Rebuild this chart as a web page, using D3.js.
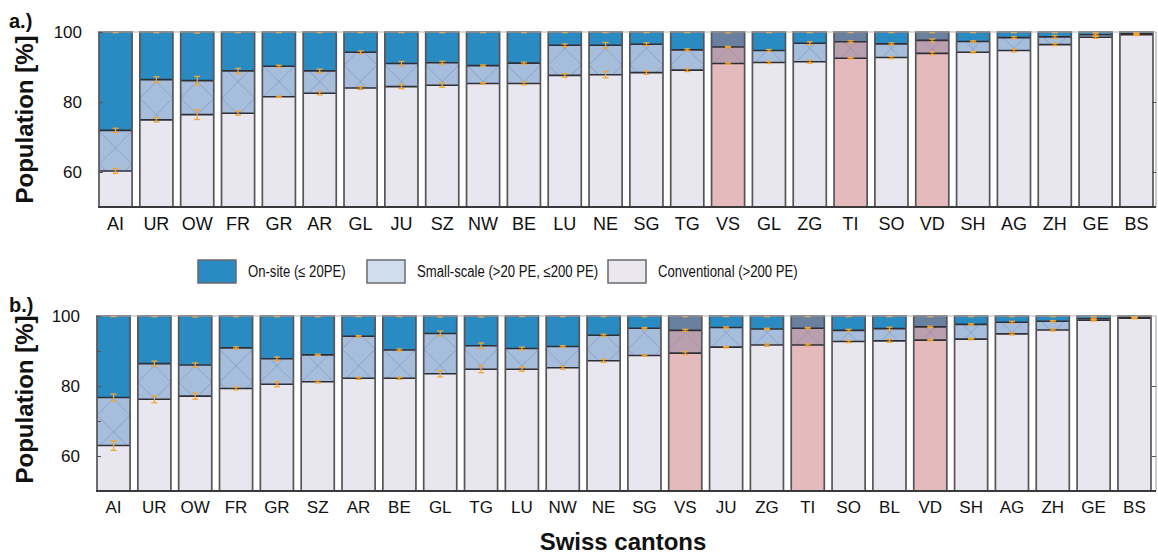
<!DOCTYPE html>
<html>
<head>
<meta charset="utf-8">
<script src="https://cdn.jsdelivr.net/npm/d3@7"></script>
<style>
  body { margin: 0; background: #fff; }
  svg { display: block; font-family: "Liberation Sans", Arial, sans-serif; }
  .axis .domain { display: none; }
  .axis text { font-family: "Liberation Sans", Arial, sans-serif; font-size: 17px; fill: #111; }
  .axis line { stroke: #555; }
</style>
</head>
<body>
<div id="chart"></div>
<script>
// ---- data ----
var keys = ["conventional", "smallScale", "onSite"];
var highlighted = ["VS", "TI", "VD"];

// panel a
var cantonsA = ["AI","UR","OW","FR","GR","AR","GL","JU","SZ","NW","BE","LU","NE","SG","TG","VS","GL","ZG","TI","SO","VD","SH","AG","ZH","GE","BS"];
var conventionalA = [60.3,74.9,76.4,76.8,81.5,82.5,84.0,84.4,84.8,85.3,85.3,87.6,87.8,88.4,89.1,91.0,91.3,91.5,92.5,92.7,93.9,94.2,94.7,96.4,98.5,99.2];
var smallScaleA   = [11.6,11.5,9.7,12.1,8.7,6.4,10.2,6.6,6.4,5.1,5.8,8.6,8.4,8.1,5.8,4.7,3.4,5.3,4.7,3.9,3.7,3.1,3.7,2.2,0.7,0.3];
var onSiteA       = [28.1,13.6,13.9,11.1,9.8,11.1,5.8,9.0,8.8,9.6,8.9,3.8,3.8,3.5,5.1,4.3,5.3,3.2,2.8,3.4,2.4,2.7,1.6,1.4,0.8,0.5];
// error half-widths: at 100, at on-site/small boundary, at small/conventional boundary
var errTopA   = [0.2,0.2,0.3,0.2,0.2,0.2,0.2,0.2,0.2,0.2,0.2,0.2,0.2,0.2,0.2,0.3,0.2,0.2,0.2,0.2,0.2,0.2,0.2,0.2,0.2,0.2];
var errUpperA = [0.6,0.8,1.2,0.7,0.3,0.5,0.4,0.6,0.4,0.2,0.3,0.4,0.8,0.4,0.3,0.2,0.3,0.4,0.3,0.3,0.4,0.2,0.3,0.4,0.3,0.2];
var errLowerA = [0.7,0.6,1.4,0.6,0.2,0.5,0.4,0.6,0.6,0.2,0.4,0.5,0.9,0.5,0.4,0.2,0.3,0.4,0.2,0.3,0.4,0.2,0.4,0.3,0.3,0.2];

// panel b
var cantonsB = ["AI","UR","OW","FR","GR","SZ","AR","BE","GL","TG","LU","NW","NE","SG","VS","JU","ZG","TI","SO","BL","VD","SH","AG","ZH","GE","BS"];
var conventionalB = [63.0,76.2,77.1,79.3,80.5,81.2,82.2,82.2,83.5,84.8,84.8,85.2,87.2,88.7,89.4,91.1,91.7,91.7,92.7,92.9,93.1,93.4,94.9,96.0,98.8,99.4];
var smallScaleB   = [13.7,10.2,8.9,11.6,7.3,7.7,12.0,8.1,11.5,6.7,5.9,6.1,7.3,7.8,6.5,5.6,4.6,4.8,3.2,3.5,3.8,4.2,3.3,2.5,0.4,0.2];
var onSiteB       = [23.3,13.6,14.0,9.1,12.2,11.1,5.8,9.7,5.0,8.5,9.3,8.7,5.5,3.5,4.1,3.3,3.7,3.5,4.1,3.6,3.1,2.4,1.8,1.5,0.8,0.4];
var errTopB   = [0.2,0.2,0.3,0.2,0.2,0.2,0.2,0.2,0.3,0.3,0.2,0.2,0.2,0.2,0.2,0.2,0.2,0.2,0.2,0.2,0.2,0.2,0.2,0.2,0.2,0.2];
var errUpperB = [1.0,0.7,0.6,0.3,0.5,0.2,0.2,0.3,0.7,0.8,0.4,0.2,0.3,0.2,0.3,0.2,0.2,0.2,0.3,0.4,0.2,0.2,0.3,0.2,0.2,0.2];
var errLowerB = [1.4,1.0,0.9,0.4,0.7,0.3,0.3,0.3,0.9,1.0,0.6,0.4,0.4,0.2,0.4,0.2,0.3,0.3,0.3,0.4,0.2,0.2,0.3,0.3,0.2,0.2];

var yTicks = [60, 80, 100];
var legendLabels = ["On-site (\u2264 20PE)", "Small-scale (>20 PE, \u2264200 PE)", "Conventional (>200 PE)"];

// ---- colours ----
var colors = { onSite: "#2a8bc2", smallScale: "#a6bddc", conventional: "#e8e6ef" };
var legendColors = ["#2a8bc2", "#d0dded", "#ebe7f1"];

var svg = d3.select("#chart").append("svg")
    .attr("width", 1158)
    .attr("height", 556);

var defs = svg.append("defs");

StackPanel = function(_opts) {
    this.opts = _opts;
    this.initVis();
};

StackPanel.prototype.initVis = function() {
    var vis = this;
    var o = vis.opts;

    // build rows
    vis.data = o.cantons.map(function(c, i) {
        return {
            i: i, canton: c,
            conventional: o.conventional[i],
            smallScale: o.smallScale[i],
            onSite: o.onSite[i],
            errTop: o.errTop[i], errUpper: o.errUpper[i], errLower: o.errLower[i]
        };
    });

    vis.x = d3.scaleBand()
        .domain(d3.range(o.cantons.length))
        .range([o.left, o.barsRight])
        .paddingInner(0.19)
        .paddingOuter(0);

    vis.y = d3.scaleLinear()
        .domain([50, 100])
        .range([o.bottom, o.top]);

    vis.g = svg.append("g");

    var series = d3.stack().keys(keys)(vis.data);

    // hatch pattern per bar, anchored at the bar's left edge
    vis.data.forEach(function(d) {
        var w = vis.x.bandwidth();
        var p = defs.append("pattern")
            .attr("id", o.id + "-hatch-" + d.i)
            .attr("patternUnits", "userSpaceOnUse")
            .attr("x", vis.x(d.i))
            .attr("y", o.top)
            .attr("width", w)
            .attr("height", w);
        p.append("rect").attr("width", w).attr("height", w).attr("fill", colors.smallScale);
        p.append("path")
            .attr("d", "M0,0L" + w + "," + w + "M" + w + ",0L0," + w)
            .attr("stroke", "#8197ba")
            .attr("stroke-width", 0.7)
            .attr("fill", "none");
    });

    // stacked segments
    vis.g.selectAll(".layer")
        .data(series)
        .enter().append("g")
        .attr("class", "layer")
        .selectAll("rect")
        .data(function(s) { return s.map(function(v) { v.key = s.key; return v; }); })
        .enter().append("rect")
        .attr("x", function(v) { return vis.x(v.data.i); })
        .attr("width", vis.x.bandwidth())
        .attr("y", function(v) { return vis.y(Math.max(v[1], 50)); })
        .attr("height", function(v) { return Math.max(0, vis.y(Math.max(v[0], 50)) - vis.y(Math.max(v[1], 50))); })
        .attr("fill", function(v) {
            return v.key === "smallScale" ? "url(#" + o.id + "-hatch-" + v.data.i + ")" : colors[v.key];
        });

    // red overlay on highlighted cantons
    vis.g.selectAll(".hl")
        .data(vis.data.filter(function(d) { return highlighted.indexOf(d.canton) >= 0; }))
        .enter().append("rect")
        .attr("class", "hl")
        .attr("x", function(d) { return vis.x(d.i); })
        .attr("width", vis.x.bandwidth())
        .attr("y", vis.y(100))
        .attr("height", vis.y(50) - vis.y(100))
        .attr("fill", "rgb(222,108,96)")
        .attr("fill-opacity", 0.36);

    // segment boundaries
    vis.g.selectAll(".bound")
        .data(vis.data.reduce(function(acc, d) {
            acc.push({ i: d.i, v: d.conventional });
            acc.push({ i: d.i, v: d.conventional + d.smallScale });
            return acc;
        }, []))
        .enter().append("line")
        .attr("class", "bound")
        .attr("x1", function(b) { return vis.x(b.i); })
        .attr("x2", function(b) { return vis.x(b.i) + vis.x.bandwidth(); })
        .attr("y1", function(b) { return vis.y(b.v); })
        .attr("y2", function(b) { return vis.y(b.v); })
        .attr("stroke", "#2f2f35")
        .attr("stroke-width", 1.6);

    // bar outlines
    vis.g.selectAll(".outline")
        .data(vis.data)
        .enter().append("rect")
        .attr("class", "outline")
        .attr("x", function(d) { return vis.x(d.i); })
        .attr("width", vis.x.bandwidth())
        .attr("y", vis.y(100))
        .attr("height", vis.y(50) - vis.y(100))
        .attr("fill", "none")
        .attr("stroke", "#55555a")
        .attr("stroke-width", 1.7);

    // error bars
    var errs = [];
    vis.data.forEach(function(d) {
        errs.push({ i: d.i, v: 100, e: d.errTop, top: true });
        errs.push({ i: d.i, v: d.conventional + d.smallScale, e: d.errUpper });
        errs.push({ i: d.i, v: d.conventional, e: d.errLower });
    });
    var eg = vis.g.selectAll(".err")
        .data(errs)
        .enter().append("g")
        .attr("class", "err")
        .attr("transform", function(e) { return "translate(" + (vis.x(e.i) + vis.x.bandwidth() / 2) + ",0)"; });
    eg.append("line")
        .attr("y1", function(e) { return vis.y(Math.min(100, e.v + e.e)); })
        .attr("y2", function(e) { return vis.y(e.v - e.e); })
        .attr("stroke", function(e) { return e.top ? "#7a6a50" : "#f2a735"; })
        .attr("stroke-width", 1.3);
    eg.selectAll(".cap")
        .data(function(e) { return e.top ? [e.v - e.e] : [e.v + e.e, e.v - e.e]; })
        .enter().append("line")
        .attr("x1", -3).attr("x2", 3)
        .attr("y1", function(v) { return vis.y(v); })
        .attr("y2", function(v) { return vis.y(v); })
        .attr("stroke", "#f2a735")
        .attr("stroke-width", 1.3);

    // frame
    vis.g.append("line")
        .attr("x1", o.left).attr("x2", o.right)
        .attr("y1", vis.y(100)).attr("y2", vis.y(100))
        .attr("stroke", "#b5b5b8").attr("stroke-width", 1);
    vis.g.append("line")
        .attr("x1", o.right).attr("x2", o.right)
        .attr("y1", vis.y(100)).attr("y2", vis.y(50))
        .attr("stroke", "#9a9a9e").attr("stroke-width", 1);
    vis.g.append("line")
        .attr("x1", o.left - 1).attr("x2", o.right)
        .attr("y1", vis.y(50)).attr("y2", vis.y(50))
        .attr("stroke", "#3a3a3d").attr("stroke-width", 2.2);

    // y axis
    vis.g.append("g")
        .attr("class", "axis axis--y")
        .attr("transform", "translate(" + o.left + ",0)")
        .call(d3.axisLeft(vis.y)
            .tickValues(o.yTickValues)
            .tickSize(-4)
            .tickPadding(17)
            .tickFormat(function(d) { return yTicks.indexOf(d) >= 0 ? d : ""; }));

    vis.g.append("g")
        .attr("class", "axis axis--right")
        .attr("transform", "translate(" + o.right + ",0)")
        .call(d3.axisRight(vis.y)
            .tickValues([60, 80])
            .tickSize(-4)
            .tickFormat(""));

    // x axis labels
    vis.g.append("g")
        .attr("class", "axis axis--x")
        .attr("transform", "translate(0," + o.bottom + ")")
        .call(d3.axisBottom(vis.x)
            .tickSize(0)
            .tickPadding(8)
            .tickFormat(function(i) { return o.cantons[i]; }))
        .selectAll("text")
        .style("font-size", o.labelSize + "px")
        .attr("dy", "0.85em");

    // y title
    vis.g.append("text")
        .attr("transform", "translate(" + (o.titleX) + "," + ((o.top + o.bottom) / 2 + o.titleShift) + ") rotate(-90)")
        .attr("text-anchor", "middle")
        .style("font-size", "24px")
        .style("font-weight", "bold")
        .attr("fill", "#111")
        .text("Population [%]");

    // panel tag
    vis.g.append("text")
        .attr("x", 9)
        .attr("y", o.top - 4)
        .style("font-size", "20px")
        .style("font-weight", "bold")
        .attr("fill", "#111")
        .text(o.tag);
};

var panelA = new StackPanel({
    id: "a", tag: "a.)",
    cantons: cantonsA, conventional: conventionalA, smallScale: smallScaleA, onSite: onSiteA,
    errTop: errTopA, errUpper: errUpperA, errLower: errLowerA,
    left: 99, barsRight: 1153, right: 1156, top: 32, bottom: 207,
    yTickValues: [60, 80, 100], labelSize: 18, titleX: 33, titleShift: 0
});

var panelB = new StackPanel({
    id: "b", tag: "b.)",
    cantons: cantonsB, conventional: conventionalB, smallScale: smallScaleB, onSite: onSiteB,
    errTop: errTopB, errUpper: errUpperB, errLower: errLowerB,
    left: 97, barsRight: 1151, right: 1156, top: 316, bottom: 491,
    yTickValues: [60, 70, 80, 90, 100], labelSize: 17, titleX: 33, titleShift: -4
});

// legend (narrow lettering, squeezed horizontally)
var legendX = [198, 367, 608];
var legend = svg.append("g").attr("class", "legend");
legendLabels.forEach(function(label, i) {
    legend.append("rect")
        .attr("x", legendX[i]).attr("y", 260)
        .attr("width", 38).attr("height", 23)
        .attr("fill", legendColors[i])
        .attr("stroke", "#6a6a6e")
        .attr("stroke-width", 1.5);
    legend.append("text")
        .attr("transform", "translate(" + (legendX[i] + 50) + ",271.5) scale(0.82,1)")
        .attr("dy", "0.35em")
        .style("font-size", "16px")
        .attr("fill", "#111")
        .text(label);
});

// x title
svg.append("text")
    .attr("x", 623).attr("y", 550)
    .attr("text-anchor", "middle")
    .style("font-size", "24px")
    .style("font-weight", "bold")
    .attr("fill", "#111")
    .text("Swiss cantons");
</script>
</body>
</html>
